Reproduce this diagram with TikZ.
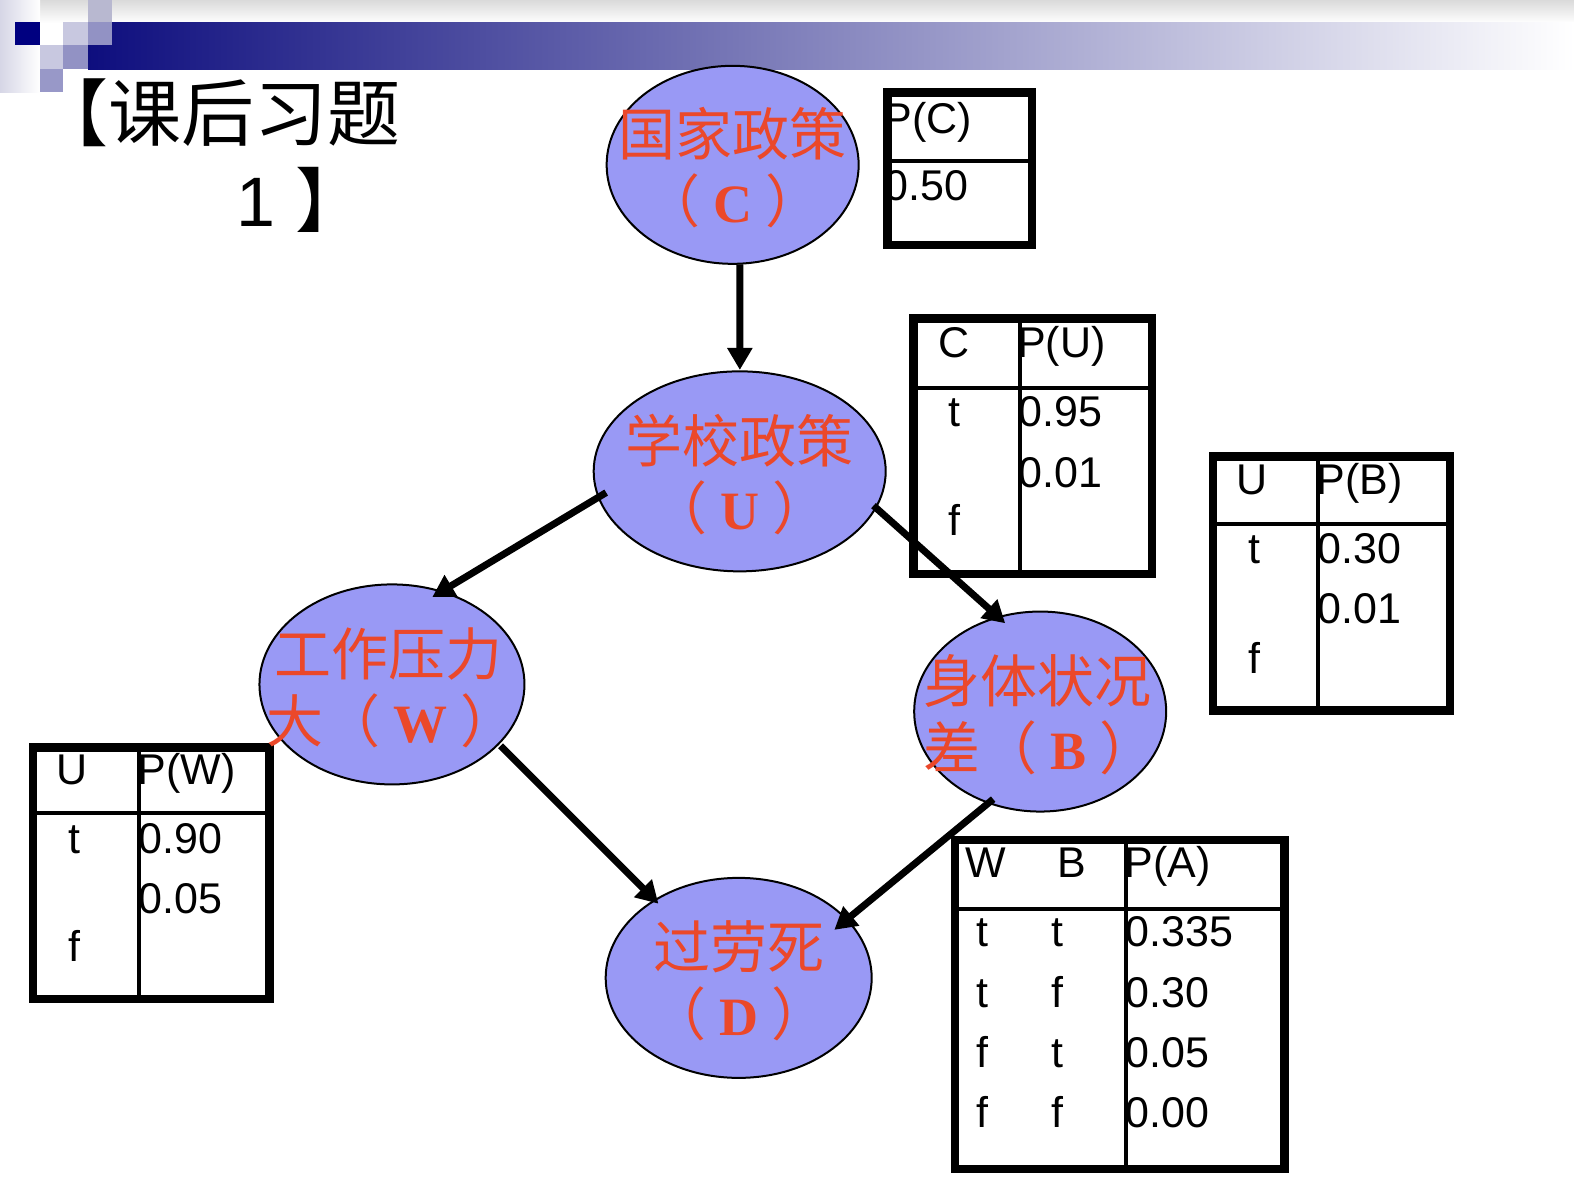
\documentclass[tikz,border=0pt]{standalone}
\usepackage{fontspec}
\setmainfont{Liberation Sans}
\newfontfamily\cjk{Noto Sans CJK SC}
\newfontfamily\lser{Liberation Serif}
\usetikzlibrary{shapes.geometric,arrows.meta,calc}
\definecolor{nodefill}{RGB}{153,153,245}
\definecolor{txtred}{RGB}{235,72,42}
\definecolor{navyb}{RGB}{0,0,128}
\definecolor{barL}{RGB}{14,14,126}
\definecolor{bandtop}{RGB}{218,218,218}
\definecolor{lavL}{RGB}{214,214,230}
\definecolor{sqlight}{RGB}{200,200,224}
\definecolor{sqmid}{RGB}{146,146,196}
\definecolor{sqmidb}{RGB}{152,152,200}
\definecolor{sqgrey}{RGB}{184,184,208}
\newcommand{\Lt}[1]{\hspace{13pt}{\lser\bfseries\fontsize{54}{54}\selectfont #1}\hspace{13pt}}
\begin{document}
\begin{tikzpicture}[x=1pt,y=-1pt,
  bnode/.style={ellipse,draw=black,line width=2pt,fill=nodefill,inner sep=0pt},
  lbl/.style={text=txtred,inner sep=0pt,yshift=-3pt,font=\cjk\fontsize{57}{67}\selectfont},
  conn/.style={line width=7pt,-{Triangle[length=22pt,width=24pt]}},
  outerb/.style={draw=black,line width=8.5pt},
  innerb/.style={draw=black,line width=4pt},
  ttxt/.style={inner sep=0pt,font=\fontsize{43}{43}\selectfont},
]
\useasboundingbox (0,0) rectangle (1574,1184);
\fill[white] (0,0) rectangle (1574,1184);
% banner
\fill[top color=bandtop,bottom color=white!95!bandtop] (0,0) rectangle (1574,22);
\fill[left color=lavL,right color=white] (0,0) rectangle (40,92);
\fill[left color=barL,right color=white] (88,22) rectangle (1574,69);
\fill[navyb] (15,22) rectangle (40,45);
\fill[sqlight] (40,45) rectangle (63,69);
\fill[sqlight] (63,22) rectangle (88,45);
\fill[sqmid] (63,45) rectangle (88,69);
\fill[sqgrey] (88,0) rectangle (112,22);
\fill[sqmid] (88,22) rectangle (112,45);
\fill[sqmidb] (40,69) rectangle (63,92);
\begin{scope}[scale=1.005]
% title
\node[anchor=west,inner sep=0pt,font=\cjk\fontsize{73}{73}\selectfont] (title1) at (35,112) {【课后习题};
\node[anchor=base west,inner sep=0pt] (title2) at (235,225) {{\fontsize{70}{70}\selectfont 1}\hspace{20pt}{\cjk\fontsize{70}{70}\selectfont 】}};
% tables
\draw[outerb] (883,92) rectangle (1027,244);
\draw[innerb] (883,160) -- (1027,160);
\node[ttxt,anchor=base west] (pc1) at (879,133) {P(C)};
\node[ttxt,anchor=base west] (pc2) at (880,199) {0.50};

\draw[outerb] (909,317) rectangle (1146,571);
\draw[innerb] (1015,317) -- (1015,571);
\draw[innerb] (909,386) -- (1146,386);
\node[ttxt,anchor=base] (pu1) at (949,356) {C};
\node[ttxt,anchor=base west] (pu2) at (1012,356) {P(U)};
\node[ttxt,anchor=base] (pu3) at (950,424) {t};
\node[ttxt,anchor=base west] (pu4) at (1013,424) {0.95};
\node[ttxt,anchor=base west] (pu5) at (1013,485) {0.01};
\node[ttxt,anchor=base] (pu6) at (950,533) {f};

\draw[outerb] (1207,454) rectangle (1443,707);
\draw[innerb] (1311,454) -- (1311,707);
\draw[innerb] (1207,521) -- (1443,521);
\node[ttxt,anchor=base] (pb1) at (1246,492) {U};
\node[ttxt,anchor=base west] (pb2) at (1310,492) {P(B)};
\node[ttxt,anchor=base] (pb3) at (1248,561) {t};
\node[ttxt,anchor=base west] (pb4) at (1311,561) {0.30};
\node[ttxt,anchor=base west] (pb5) at (1311,620) {0.01};
\node[ttxt,anchor=base] (pb6) at (1248,670) {f};

\draw[outerb] (33,744) rectangle (268,994);
\draw[innerb] (138,744) -- (138,994);
\draw[innerb] (33,809) -- (268,809);
\node[ttxt,anchor=base] (pw1) at (72,781) {U};
\node[ttxt,anchor=base west] (pw2) at (137,781) {P(W)};
\node[ttxt,anchor=base] (pw3) at (74,849) {t};
\node[ttxt,anchor=base west] (pw4) at (138,849) {0.90};
\node[ttxt,anchor=base west] (pw5) at (138,909) {0.05};
\node[ttxt,anchor=base] (pw6) at (74,957) {f};

\draw[outerb] (950,836) rectangle (1278,1163);
\draw[innerb] (1120,836) -- (1120,1163);
\draw[innerb] (950,904) -- (1278,904);
\node[ttxt,anchor=base] (pa1) at (981,873) {W};
\node[ttxt,anchor=base] (pa2) at (1066,873) {B};
\node[ttxt,anchor=base west] (pa3) at (1119,873) {P(A)};
\node[ttxt,anchor=base] (pa4) at (978,942) {t};
\node[ttxt,anchor=base] (pa5) at (1052,942) {t};
\node[ttxt,anchor=base west] (pa6) at (1120,942) {0.335};
\node[ttxt,anchor=base] (pa7) at (978,1002) {t};
\node[ttxt,anchor=base] (pa8) at (1052,1002) {f};
\node[ttxt,anchor=base west] (pa9) at (1120,1002) {0.30};
\node[ttxt,anchor=base] (pa10) at (978,1062) {f};
\node[ttxt,anchor=base] (pa11) at (1052,1062) {t};
\node[ttxt,anchor=base west] (pa12) at (1120,1062) {0.05};
\node[ttxt,anchor=base] (pa13) at (978,1122) {f};
\node[ttxt,anchor=base] (pa14) at (1052,1122) {f};
\node[ttxt,anchor=base west] (pa15) at (1120,1122) {0.00};
% nodes
\node[bnode,minimum width=252pt,minimum height=198pt] (C) at (729,164) {};
\node[bnode,minimum width=292pt,minimum height=200pt] (U) at (736,469) {};
\node[bnode,minimum width=265pt,minimum height=200pt] (W) at (390,681) {};
\node[bnode,minimum width=252pt,minimum height=200pt] (B) at (1035,708) {};
\node[bnode,minimum width=266pt,minimum height=200pt] (D) at (735,973) {};
\node[lbl,align=center] (Ct) at (C) {国家政策\\（\Lt{C}）};
\node[lbl,align=center] (Ut) at (U) {学校政策\\（\Lt{U}）};
\node[lbl,align=left,xshift=4pt] (Wt) at (W) {工作压力\\\hspace*{-8pt}大（\Lt{W}）};
\node[lbl,align=left] (Bt) at (B) {身体状况\\差（\Lt{B}）};
\node[lbl,align=center] (Dt) at (D) {过劳死\\（\Lt{D}）};
% connectors
\draw[conn] ($(C.center)+(7,99)$) -- ($(U.center)+(0,-101)$);
\draw[conn] ($(U.center)+(-133,21)$) -- ($(W.center)+(40,-87)$);
\draw[conn] ($(U.center)+(133,34)$) -- ($(B.center)+(-35,-88)$);
\draw[conn] ($(W.center)+(108,61)$) -- ($(D.center)+(-80,-74)$);
\draw[conn] ($(B.center)+(-47,87)$) -- ($(D.center)+(95,-48)$);
\end{scope}
\end{tikzpicture}
\end{document}
